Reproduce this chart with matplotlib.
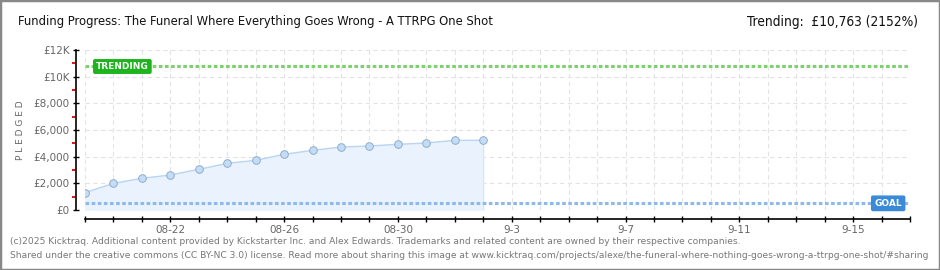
import matplotlib.pyplot as plt
import numpy as np
from matplotlib.patches import Rectangle

# ===== DATA =====
days = list(range(15))  # 08-19 .. 09-02
pledged = [1300, 2000, 2375, 2625, 3050, 3500, 3725, 4175, 4475, 4725,
           4800, 4925, 5025, 5225, 5225]
goal = 500
trending = 10763
n_days = 29  # 08-19 .. 09-17

xtick_pos = [3, 7, 11, 15, 19, 23, 27]
xtick_labels = ["08-22", "08-26", "08-30", "9-3", "9-7", "9-11", "9-15"]
ytick_pos = [0, 2000, 4000, 6000, 8000, 10000, 12000]
ytick_labels = ["£0", "£2,000", "£4,000", "£6,000", "£8,000", "£10K", "£12K"]

title = "Funding Progress: The Funeral Where Everything Goes Wrong - A TTRPG One Shot"
trend_text = "Trending:  £10,763 (2152%)"
foot1 = ("(c)2025 Kicktraq. Additional content provided by Kickstarter Inc. and Alex Edwards. "
         "Trademarks and related content are owned by their respective companies.")
foot2 = ("Shared under the creative commons (CC BY-NC 3.0) license. Read more about sharing this image at "
         "www.kicktraq.com/projects/alexe/the-funeral-where-nothing-goes-wrong-a-ttrpg-one-shot/#sharing")

# ===== FIGURE =====
W, H = 940, 270
fig = plt.figure(figsize=(W / 100, H / 100), dpi=100)
fig.patch.set_facecolor("white")
ax = fig.add_axes([85 / W, (H - 210) / H, 825 / W, 160 / H])

grey = "#666666"
ax.set_xlim(0, n_days)
ax.set_ylim(0, 12000)

# grid
for d in range(n_days + 1):
    ax.axvline(d, color="#e3e3e3", lw=0.8, ls=(0, (4, 3)), zorder=0)
for v in ytick_pos:
    ax.axhline(v, color="#e3e3e3", lw=0.8, ls=(0, (4, 3)), zorder=0)

# series
ax.fill_between(days, pledged, 0, color="#eaf3fd", zorder=1)
ax.plot([days[-1], days[-1]], [0, pledged[-1]], color="#d6e6f8", lw=0.8, zorder=1)
ax.plot(days, pledged, color="#b8d5f3", lw=1.0, marker="o", ms=5.5,
        mfc="#c3ddf8", mec="#90acc8", mew=0.7, zorder=3)

# trending & goal lines
ax.axhline(trending, color="#80cf72", lw=2.2, ls=(0, (1.2, 0.8)), zorder=2)
ax.axhline(goal, color="#8cbaec", lw=2.2, ls=(0, (1.2, 0.8)), zorder=2)
ax.text(11 / 825, trending, "TRENDING", transform=ax.get_yaxis_transform(),
        ha="left", va="center", color="white", fontsize=6.5, fontweight="bold",
        bbox=dict(boxstyle="round,pad=0.25,rounding_size=0.15", fc="#1db41d", ec="#1db41d"),
        zorder=4)
ax.text(817 / 825, goal, "GOAL", transform=ax.get_yaxis_transform(),
        ha="right", va="center", color="white", fontsize=6.5, fontweight="bold",
        bbox=dict(boxstyle="round,pad=0.3,rounding_size=0.15", fc="#3a8ad8", ec="#3a8ad8"),
        zorder=4)

# axes styling
for s in ["top", "right"]:
    ax.spines[s].set_visible(False)
ax.spines["left"].set_position(("outward", 6.5))
ax.spines["bottom"].set_position(("outward", 6.5))
for s in ["left", "bottom"]:
    ax.spines[s].set_color("black")
    ax.spines[s].set_linewidth(1.2)

ax.set_xticks(range(n_days + 1), minor=True)
ax.set_xticks(xtick_pos)
ax.set_xticklabels(xtick_labels)
ax.tick_params(axis="x", which="both", direction="inout", length=5, width=1,
               color="black", labelsize=7.5, labelcolor=grey, pad=2)
ax.set_yticks(ytick_pos)
ax.set_yticklabels(ytick_labels)
ax.set_yticks(np.arange(1000, 12000, 2000), minor=True)
ax.tick_params(axis="y", which="major", direction="inout", length=5, width=1,
               color="black", labelsize=7.5, labelcolor=grey, pad=2)
ax.tick_params(axis="y", which="minor", direction="out", length=3, width=1.3, color="#e00000")
ax.set_ylabel("P L E D G E D", color=grey, fontsize=6.5, labelpad=6)

# texts
fig.text(18 / W, 1 - 22 / H, title, ha="left", va="center", fontsize=9.3,
         fontstretch="condensed", color="#111111")
fig.text(918 / W, 1 - 22 / H, trend_text, ha="right", va="center", fontsize=9.8,
         fontstretch="condensed", color="#111111")
fig.text(10 / W, 1 - 242 / H, foot1, ha="left", va="center", fontsize=6.6, color="#777777")
fig.text(10 / W, 1 - 255 / H, foot2, ha="left", va="center", fontsize=6.6, color="#777777")

# frame
fig.patches.append(Rectangle((0, 0), 1, 1, transform=fig.transFigure, fill=False,
                             ec="#888888", lw=2.5))

fig.savefig("out.png", dpi=100)
